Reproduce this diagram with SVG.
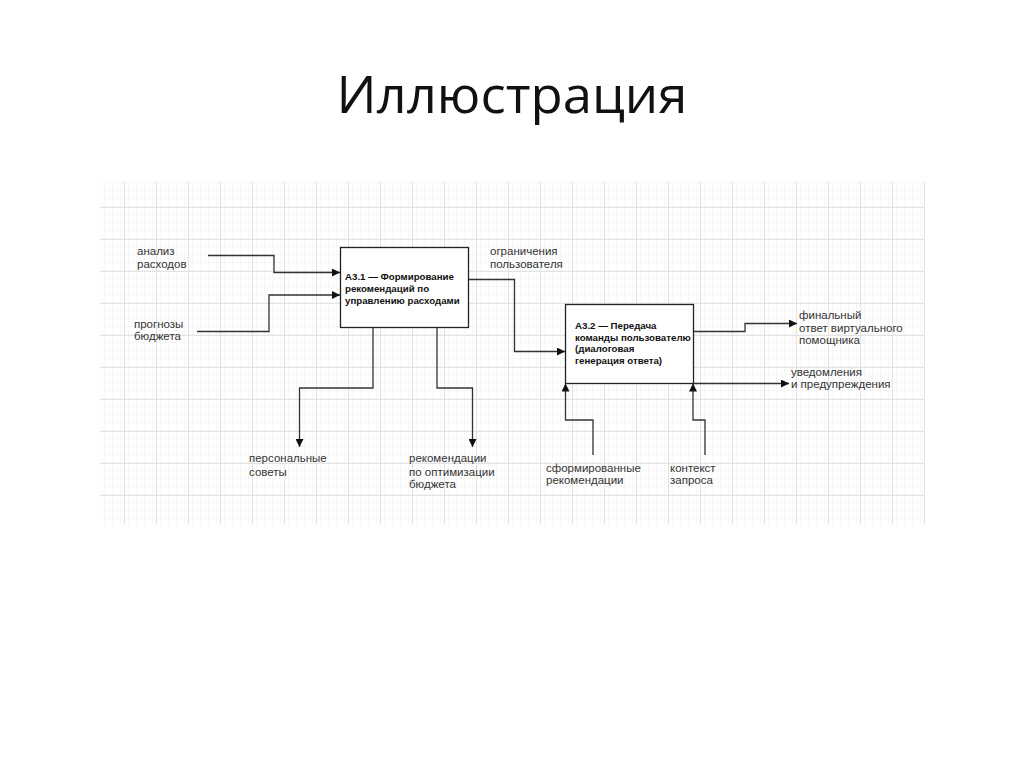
<svg xmlns="http://www.w3.org/2000/svg" width="1024" height="767" viewBox="0 0 1024 767">
  <defs>
    <pattern id="minor" patternUnits="userSpaceOnUse" x="124" y="207" width="8" height="8">
      <path d="M0 0.5H8M0.5 0V8" fill="none" stroke="#f6f6f6" stroke-width="1"/>
    </pattern>
    <pattern id="major" patternUnits="userSpaceOnUse" x="124" y="207" width="32" height="32">
      <rect width="32" height="32" fill="url(#minor)"/>
      <path d="M0 0.5H32M0.5 0V32" fill="none" stroke="#e3e3e3" stroke-width="1"/>
    </pattern>
    <marker id="arr" viewBox="0 0 8 8" refX="8" refY="4" markerWidth="8" markerHeight="8" markerUnits="userSpaceOnUse" orient="auto">
      <path d="M0 0L8 4L0 8Z" fill="#111"/>
    </marker>
    <style>
      .title{font-family:"Open Sans","Liberation Sans",sans-serif;font-size:52px;fill:#111}
      .lbl{font-family:"Liberation Sans",Arial,sans-serif;font-size:11.5px;fill:#333}
      .box{fill:#fff;stroke:#222;stroke-width:1.3}
      .bt{font-family:"Liberation Sans",Arial,sans-serif;font-size:9.7px;font-weight:bold;fill:#111}
      .con{fill:none;stroke:#333;stroke-width:1.3}
    </style>
  </defs>
  <rect width="1024" height="767" fill="#fff"/>
  <text class="title" x="512" y="113" text-anchor="middle" textLength="351" lengthAdjust="spacingAndGlyphs">Иллюстрация</text>
  <rect x="100" y="182" width="825" height="343" fill="url(#major)"/>

  <g id="connectors">
    <path class="con" d="M208 255.5H274V272.5H340" marker-end="url(#arr)"/>
    <path class="con" d="M197 331.5H269V295H340" marker-end="url(#arr)"/>
    <path class="con" d="M468 279.5H514.5V351.5H565" marker-end="url(#arr)"/>
    <path class="con" d="M373 327V388H299.5V447" marker-end="url(#arr)"/>
    <path class="con" d="M437 327V388H472.5V447" marker-end="url(#arr)"/>
    <path class="con" d="M693 331.5H745V323.5H797" marker-end="url(#arr)"/>
    <path class="con" d="M693 383.5H789" marker-end="url(#arr)"/>
    <path class="con" d="M593 455V420H565.5V383.5" marker-end="url(#arr)"/>
    <path class="con" d="M705 455V420H693V383.5" marker-end="url(#arr)"/>
  </g>

  <g id="A31">
    <rect class="box" x="340.5" y="247.5" width="128" height="80"/>
    <text class="bt" x="345" y="280">А3.1 — Формирование</text>
    <text class="bt" x="345" y="292">рекомендаций по</text>
    <text class="bt" x="345" y="304">управлению расходами</text>
  </g>
  <g id="A32">
    <rect class="box" x="565.5" y="304.5" width="128" height="79"/>
    <text class="bt" x="575" y="329">А3.2 — Передача</text>
    <text class="bt" x="575" y="340.5">команды пользователю</text>
    <text class="bt" x="575" y="352">(диалоговая</text>
    <text class="bt" x="575" y="363.5">генерация ответа)</text>
  </g>

  <g id="lbl-analysis">
    <text class="lbl" x="137" y="255">анализ</text>
    <text class="lbl" x="137" y="268">расходов</text>
  </g>
  <g id="lbl-forecast">
    <text class="lbl" x="134" y="328">прогнозы</text>
    <text class="lbl" x="134" y="340">бюджета</text>
  </g>
  <g id="lbl-limits">
    <text class="lbl" x="490" y="255">ограничения</text>
    <text class="lbl" x="490" y="268">пользователя</text>
  </g>
  <g id="lbl-advice">
    <text class="lbl" x="249" y="462">персональные</text>
    <text class="lbl" x="249" y="476">советы</text>
  </g>
  <g id="lbl-recs">
    <text class="lbl" x="409" y="462">рекомендации</text>
    <text class="lbl" x="409" y="476">по оптимизации</text>
    <text class="lbl" x="409" y="488">бюджета</text>
  </g>
  <g id="lbl-formed">
    <text class="lbl" x="546" y="472">сформированные</text>
    <text class="lbl" x="546" y="484">рекомендации</text>
  </g>
  <g id="lbl-context">
    <text class="lbl" x="670" y="472">контекст</text>
    <text class="lbl" x="670" y="484">запроса</text>
  </g>
  <g id="lbl-final">
    <text class="lbl" x="799" y="319">финальный</text>
    <text class="lbl" x="799" y="332">ответ виртуального</text>
    <text class="lbl" x="799" y="344">помощника</text>
  </g>
  <g id="lbl-notify">
    <text class="lbl" x="791" y="376">уведомления</text>
    <text class="lbl" x="791" y="388">и предупреждения</text>
  </g>
</svg>
